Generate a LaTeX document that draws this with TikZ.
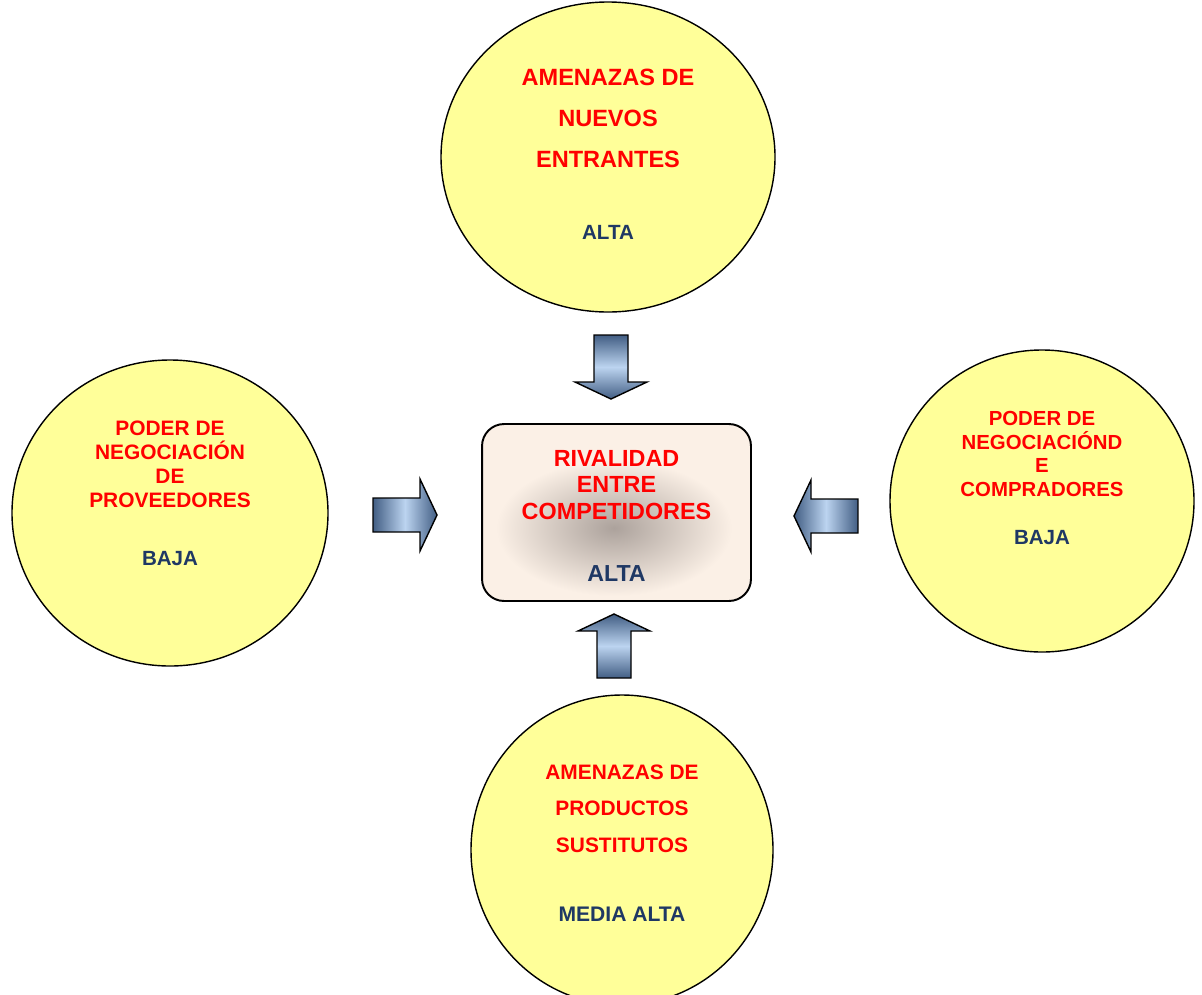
\documentclass[tikz,border=0pt]{standalone}
\usepackage{fontspec}
\setmainfont{Liberation Sans}
\usetikzlibrary{positioning}
\definecolor{amarillo}{HTML}{FFFF99}
\definecolor{rojo}{HTML}{FF0000}
\definecolor{marino}{RGB}{31,56,100}
\definecolor{durazno}{RGB}{251,240,230}
\definecolor{brillo}{RGB}{172,162,156}
\definecolor{flechaosc}{RGB}{66,94,132}
\definecolor{flechaclr}{RGB}{188,212,240}
\tikzset{
  fuerza/.style={draw=black,line width=0.8pt,fill=amarillo},
  titulo/.style={text=rojo,align=center,inner sep=0pt},
  valor/.style={text=marino,inner sep=0pt},
  caja/.style={draw=black,line width=1.1pt,fill=durazno,rounded corners=22*0.02cm,
    minimum width=5.38cm,minimum height=3.54cm},
  flechaH/.style={draw=black,line width=0.8pt,left color=flechaosc,
    right color=flechaosc,middle color=flechaclr},
  flechaV/.style={draw=black,line width=0.8pt,top color=flechaosc,
    bottom color=flechaosc,middle color=flechaclr}
}
\begin{document}
\begin{tikzpicture}[x=0.02cm,y=-0.02cm,font=\bfseries]
\useasboundingbox (0,0) rectangle (1202,994);
\clip (0,0) rectangle (1202,994);
% cuatro fuerzas
\draw[fuerza] (608,157) ellipse[x radius=167,y radius=155];
\draw[fuerza] (170,513) ellipse[x radius=158,y radius=153];
\draw[fuerza] (1042,501) ellipse[x radius=152,y radius=151];
\draw[fuerza] (622,850) ellipse[x radius=151,y radius=155];
\node[titulo,font={\fontsize{13.4}{23.5}\selectfont\bfseries}] (entrantes) at (608,118.5)
  {AMENAZAS DE\\NUEVOS\\ENTRANTES};
\node[valor,font={\fontsize{11.7}{14}\selectfont\bfseries}] (entrantesV) at (608,232) {ALTA};
\node[titulo,font={\fontsize{11.9}{13.6}\selectfont\bfseries}] (proveedores) at (170,464)
  {PODER DE\\NEGOCIACIÓN\\DE\\PROVEEDORES};
\node[valor,font={\fontsize{11.7}{14}\selectfont\bfseries}] (proveedoresV) at (170,559) {BAJA};
\node[titulo,font={\fontsize{11.6}{13.6}\selectfont\bfseries}] (compradores) at (1042,454)
  {PODER DE\\NEGOCIACIÓND\\E\\COMPRADORES};
\node[valor,font={\fontsize{11.7}{14}\selectfont\bfseries}] (compradoresV) at (1042,538) {BAJA};
\node[titulo,font={\fontsize{11.9}{20.7}\selectfont\bfseries}] (sustitutos) at (622,808.5)
  {AMENAZAS DE\\PRODUCTOS\\SUSTITUTOS};
\node[valor,font={\fontsize{12}{14}\selectfont\bfseries}] (sustitutosV) at (622,914) {MEDIA ALTA};
% rivalidad
\node[caja] (rival) at (616.5,512.5) {};
\shade[inner color=brillo,outer color=durazno] (614,528) ellipse[x radius=118,y radius=68];
\node[titulo,font={\fontsize{13.3}{15.3}\selectfont\bfseries}] (rivalT) at (616.5,485)
  {RIVALIDAD\\ENTRE\\COMPETIDORES};
\node[valor,font={\fontsize{13.2}{15}\selectfont\bfseries}] (rivalV) at (616.5,574) {ALTA};
% flechas
\coordinate (colaN) at (611,335);
\coordinate (colaW) at (373,515);
\coordinate (colaE) at (858,516);
\coordinate (colaS) at (614,678);
\shade[flechaV] (colaN) ++(-17,0) -- ++(0,47) -- ++(-19,0) -- ++(36,17) -- ++(36,-17) -- ++(-19,0) -- ++(0,-47) -- cycle;
\shade[flechaH] (colaW) ++(0,-17) -- ++(47,0) -- ++(0,-19) -- ++(17,36) -- ++(-17,36) -- ++(0,-19) -- ++(-47,0) -- cycle;
\shade[flechaH] (colaE) ++(0,-17) -- ++(-47,0) -- ++(0,-19) -- ++(-17,36) -- ++(17,36) -- ++(0,-19) -- ++(47,0) -- cycle;
\shade[flechaV] (colaS) ++(-17,0) -- ++(0,-47) -- ++(-19,0) -- ++(36,-17) -- ++(36,17) -- ++(-19,0) -- ++(0,47) -- cycle;
\end{tikzpicture}
\end{document}
